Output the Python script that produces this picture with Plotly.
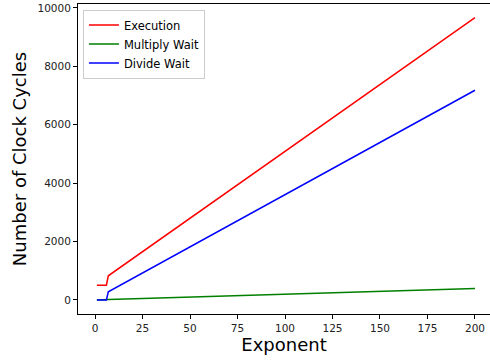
import plotly.graph_objects as go

exponent = [1, 2, 3, 4, 5, 6, 7, 25, 50, 100, 150, 200]
execution = [505, 505, 505, 505, 505, 505, 825, 1650, 2800, 5100, 7400, 9670]
multiply_wait = [0, 4, 6, 8, 10, 12, 14, 50, 100, 200, 300, 390]
divide_wait = [0, 0, 0, 0, 0, 0, 275, 920, 1820, 3610, 5400, 7180]

fig = go.Figure()
fig.add_trace(go.Scatter(x=exponent, y=execution, mode="lines", name="Execution",
                         line=dict(color="#ff0000", width=1.5)))
fig.add_trace(go.Scatter(x=exponent, y=multiply_wait, mode="lines", name="Multiply Wait",
                         line=dict(color="#008000", width=1.5)))
fig.add_trace(go.Scatter(x=exponent, y=divide_wait, mode="lines", name="Divide Wait",
                         line=dict(color="#0000ff", width=1.5)))

axis_common = dict(showline=True, linecolor="black", linewidth=1, mirror=True,
                   ticks="outside", ticklen=4, tickcolor="black", showgrid=False,
                   zeroline=False, automargin=False,
                   tickfont=dict(family="DejaVu Sans", size=10.5, color="#222"))

fig.update_layout(
    width=490, height=360,
    margin=dict(l=78, r=0, t=4, b=46),
    plot_bgcolor="white", paper_bgcolor="white",
    xaxis=dict(range=[-8.95, 207.9], tickvals=[0, 25, 50, 75, 100, 125, 150, 175, 200],
               title=dict(text="Exponent", font=dict(family="DejaVu Sans", size=18, color="black"), standoff=1),
               **axis_common),
    yaxis=dict(range=[-483, 10135], tickvals=[0, 2000, 4000, 6000, 8000, 10000], tickformat="d",
               title=dict(text="Number of Clock Cycles", font=dict(family="DejaVu Sans", size=18, color="black"), standoff=6),
               **axis_common),
    legend=dict(x=0.012, y=0.982, xanchor="left", yanchor="top",
                bordercolor="#cccccc", borderwidth=1, bgcolor="rgba(255,255,255,0.8)",
                font=dict(family="DejaVu Sans", size=11.5, color="black"),
                tracegroupgap=0, itemwidth=30),
    showlegend=True,
)

fig.write_html("out.html", post_script="document.body.style.margin='0';",
               config={"displayModeBar": False})
